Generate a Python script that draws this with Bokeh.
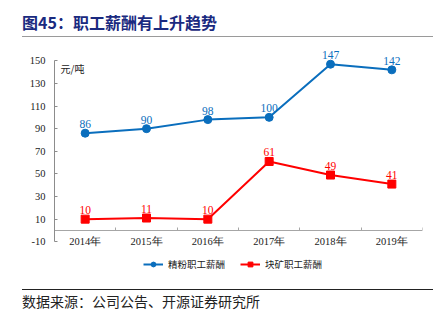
from bokeh.plotting import figure
from bokeh.models import (Range1d, FixedTicker, LinearAxis, Label, Div,
                          Legend, LegendItem, ColumnDataSource)
from bokeh.layouts import column
from bokeh.embed import file_html
from bokeh.resources import INLINE
from bokeh.core.properties import value

# ---- data ----
years = ["2014年", "2015年", "2016年", "2017年", "2018年", "2019年"]
jingfen = [86, 90, 98, 100, 147, 142]      # 精粉职工薪酬
kuaikuang = [10, 11, 10, 61, 49, 41]        # 块矿职工薪酬
y_ticks = [-10, 10, 30, 50, 70, 90, 110, 130, 150]
series_names = ["精粉职工薪酬", "块矿职工薪酬"]
title_text = "图45：职工薪酬有上升趋势"
unit_text = "元/吨"
source_text = "数据来源：公司公告、开源证券研究所"

BLUE = "#0A6EBD"
RED = "#FF0000"
SERIF = "Liberation Serif"
CJK = "Noto Sans CJK SC"

n = len(years)
xs = [i + 0.5 for i in range(n)]
bounds = list(range(n + 1))

# vertical room below the value axis keeps the legend inside the plotting frame
Y_LO, Y_HI = -35.4, 160

p = figure(width=445, height=242, output_backend="svg", toolbar_location=None,
           x_range=Range1d(0, n), y_range=Range1d(Y_LO, Y_HI),
           min_border_left=54, min_border_right=23, min_border_top=9,
           min_border_bottom=12, x_axis_location=None, y_axis_location="left")
p.grid.visible = False
p.outline_line_color = None
p.background_fill_color = "white"
p.border_fill_color = "white"

# y axis
ya = p.yaxis[0]
ya.ticker = FixedTicker(ticks=y_ticks)
ya.bounds = (y_ticks[0], y_ticks[-1])
ya.major_label_overrides = {t: str(t) for t in y_ticks}
ya.major_tick_in = 3
ya.major_tick_out = 0
ya.minor_tick_line_color = None
ya.axis_line_color = "#8c8c8c"
ya.major_tick_line_color = "#8c8c8c"
ya.major_label_standoff = 9
ya.major_label_text_font = SERIF
ya.major_label_text_font_size = "10.5px"
ya.major_label_text_color = "#222222"

# category labels, level with the bottom of the value axis
xa = LinearAxis(ticker=FixedTicker(ticks=xs), fixed_location=y_ticks[0],
                major_label_overrides={x: y for x, y in zip(xs, years)})
xa.axis_line_color = None
xa.major_tick_line_color = None
xa.minor_tick_line_color = None
xa.major_tick_in = 0
xa.major_tick_out = 0
xa.major_label_standoff = -6
xa.major_label_text_font = SERIF
xa.major_label_text_font_size = "10.5px"
xa.major_label_text_color = "#222222"
p.add_layout(xa, "below")

# zero line with category boundary ticks
za = LinearAxis(ticker=FixedTicker(ticks=bounds), fixed_location=0)
za.axis_line_color = "#a6a6a6"
za.major_tick_line_color = "#a6a6a6"
za.minor_tick_line_color = None
za.major_tick_in = 0
za.major_tick_out = 3
za.major_label_text_font_size = "0px"
za.major_label_text_color = None
za.major_label_standoff = 0
p.add_layout(za, "above")

src = ColumnDataSource(dict(x=xs, a=jingfen, b=kuaikuang,
                            at=[str(v) for v in jingfen],
                            bt=[str(v) for v in kuaikuang]))

l1 = p.line("x", "a", source=src, line_color=BLUE, line_width=2)
c1 = p.scatter("x", "a", source=src, marker="circle", size=8,
               fill_color=BLUE, line_color=BLUE)
l2 = p.line("x", "b", source=src, line_color=RED, line_width=2)
c2 = p.scatter("x", "b", source=src, marker="square", size=8,
               fill_color=RED, line_color=RED)

p.text("x", "a", text="at", source=src, text_align="center",
       text_baseline="bottom", y_offset=-5, text_font=value(SERIF),
       text_font_size="11.5px", text_color=BLUE)
p.text("x", "b", text="bt", source=src, text_align="center",
       text_baseline="bottom", y_offset=-5, text_font=value(SERIF),
       text_font_size="11.5px", text_color=RED)

# unit label
p.add_layout(Label(x=6, y=202, x_units="screen", y_units="screen", text=unit_text,
                   text_font=CJK, text_font_size="10px", text_color="#222222",
                   text_baseline="middle"))

# legend
legend = Legend(items=[LegendItem(label=series_names[0], renderers=[l1, c1]),
                       LegendItem(label=series_names[1], renderers=[l2, c2])],
                orientation="horizontal", location=(89, -1),
                glyph_width=20, glyph_height=12, label_height=12,
                label_standoff=5, spacing=15, padding=0, margin=0,
                border_line_color=None, background_fill_alpha=0,
                label_text_font=CJK, label_text_font_size="9.5px",
                label_text_color="#222222")
p.add_layout(legend, "center")

title_div = Div(width=445, height=40, margin=0, text=(
    '<div style="margin-left:22px;width:411px;height:37px;box-sizing:border-box;'
    'padding-top:12px;border-bottom:1.5px solid #9a9a9a;'
    "font-family:'Noto Sans CJK SC';font-weight:bold;font-size:16px;"
    'line-height:20px;color:#1A2A80;white-space:nowrap">' + title_text + '</div>'))

foot_div = Div(width=445, height=41, margin=0, text=(
    '<div style="margin-left:22px;margin-top:7px;width:411px;box-sizing:border-box;'
    'border-top:1px solid #222222;padding-top:3px;'
    "font-family:'Noto Sans CJK SC';font-size:14px;line-height:16px;"
    'color:#222222;white-space:nowrap">' + source_text + '</div>'))

layout = column(title_div, p, foot_div, spacing=0)

open("out.html", "w").write(file_html(layout, INLINE))
